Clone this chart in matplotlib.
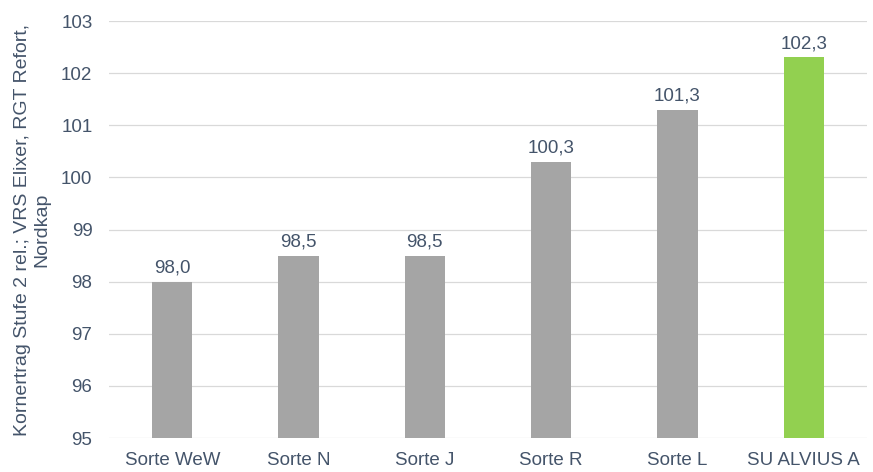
import matplotlib.pyplot as plt

sorten = ["Sorte WeW", "Sorte N", "Sorte J", "Sorte R", "Sorte L", "SU ALVIUS A"]
ertrag = [98.0, 98.5, 98.5, 100.3, 101.3, 102.3]
farben = ["#A5A5A5", "#A5A5A5", "#A5A5A5", "#A5A5A5", "#A5A5A5", "#92D050"]
y_ticks = [95, 96, 97, 98, 99, 100, 101, 102, 103]

text_col = "#44546A"
plt.rcParams["font.family"] = ["Liberation Sans", "DejaVu Sans"]

fig = plt.figure(figsize=(8.73, 4.72), dpi=100)
ax = fig.add_axes([0.125, 0.072, 0.868, 0.8835])

x = list(range(len(sorten)))
ax.bar(x, [v - 95 for v in ertrag], bottom=95, width=0.32, color=farben, zorder=3)

for xi, v in zip(x, ertrag):
    ax.text(xi, v + 0.1, f"{v:.1f}".replace(".", ","), ha="center", va="bottom",
            fontsize=13.5, color=text_col)

ax.set_ylim(95, 103)
ax.set_xlim(-0.5, len(sorten) - 0.5)
ax.set_yticks(y_ticks)
ax.set_yticklabels([str(t) for t in y_ticks])
ax.set_xticks(x)
ax.set_xticklabels(sorten)
ax.tick_params(axis="y", length=0, labelsize=13.5, colors=text_col, pad=12)
ax.tick_params(axis="x", length=0, labelsize=13.5, colors=text_col, pad=10)
ax.grid(axis="y", color="#D9D9D9", linewidth=0.9, zorder=0)
for s in ax.spines.values():
    s.set_visible(False)

ax.set_ylabel("Kornertrag Stufe 2 rel.; VRS Elixer, RGT Refort,\nNordkap",
              fontsize=14, color=text_col, linespacing=1.15)
ax.yaxis.set_label_coords(-0.078, 0.5)

fig.savefig("out.png", dpi=100, facecolor="white")
